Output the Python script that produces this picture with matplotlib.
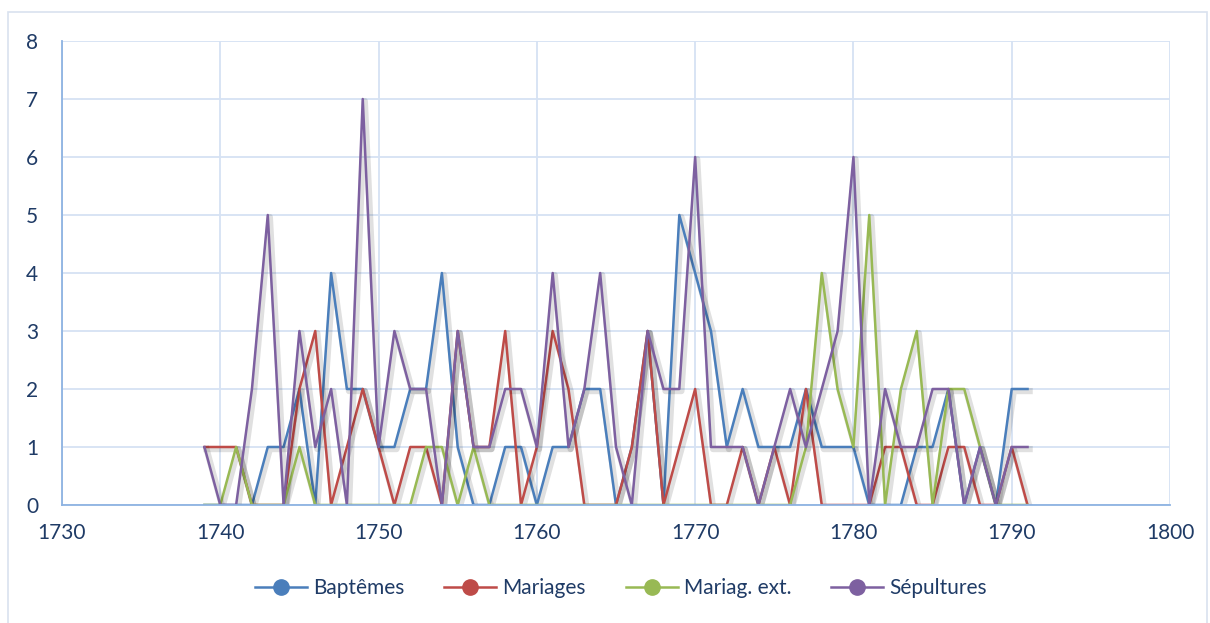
import matplotlib
matplotlib.use("Agg")
import matplotlib.pyplot as plt
import matplotlib.patheffects as pe
from matplotlib.patches import Rectangle

plt.rcParams['font.family'] = ['Lato', 'DejaVu Sans']

# Data (one value per year)
years = list(range(1739, 1792))

baptemes = [0, 0, 0, 0, 1, 1, 2, 0, 4, 2, 2, 1, 1, 2, 2, 4, 1, 0, 0, 1,
            1, 0, 1, 1, 2, 2, 0, 1, 3, 0, 5, 4, 3, 1, 2, 1, 1, 1, 2, 1,
            1, 1, 0, 0, 0, 1, 1, 2, 0, 1, 0, 2, 2]
mariages = [1, 1, 1, 0, 0, 0, 2, 3, 0, 1, 2, 1, 0, 1, 1, 0, 3, 1, 1, 3,
            0, 1, 3, 2, 0, 0, 0, 1, 3, 0, 1, 2, 0, 0, 1, 0, 1, 0, 2, 0,
            0, 0, 0, 1, 1, 0, 0, 1, 1, 0, 0, 1, 0]
mariag_ext = [0, 0, 1, 0, 0, 0, 1, 0, 0, 0, 0, 0, 0, 0, 1, 1, 0, 1, 0, 0,
              0, 0, 0, 0, 0, 0, 0, 0, 0, 0, 0, 0, 0, 0, 0, 0, 0, 0, 1, 4,
              2, 1, 5, 0, 2, 3, 0, 2, 2, 1, 0, 0, 0]
sepultures = [1, 0, 0, 2, 5, 0, 3, 1, 2, 0, 7, 1, 3, 2, 2, 0, 3, 1, 1, 2,
              2, 1, 4, 1, 2, 4, 1, 0, 3, 2, 2, 6, 1, 1, 1, 0, 1, 2, 1, 2,
              3, 6, 0, 2, 1, 1, 2, 2, 0, 1, 0, 1, 1]

series = [
    ("Baptêmes", baptemes, '#4A7EBB'),
    ("Mariages", mariages, '#BE4B48'),
    ("Mariag. ext.", mariag_ext, '#98B954'),
    ("Sépultures", sepultures, '#7D60A0'),
]

text_color = '#1F3B66'
grid_color = '#D6E2F3'
axis_color = '#8DB3E2'

fig = plt.figure(figsize=(12.10, 6.23), dpi=100)
ax = fig.add_axes([62 / 1210, 1 - 505 / 623, (1170 - 62) / 1210, (505 - 41) / 623])

# outer chart border
fig.patches.append(Rectangle((8 / 1210, -0.1), (1207 - 8) / 1210, 1.1 - 12 / 623,
                             transform=fig.transFigure, fill=False,
                             edgecolor='#D9E2EF', linewidth=1.2))

shadow = [pe.SimpleLineShadow(offset=(1.5, -1.5), shadow_color='#000000', alpha=0.12, linewidth=4.5),
          pe.Normal()]

for name, vals, color in series:
    ax.plot(years, vals, color=color, linewidth=1.8, label=name, path_effects=shadow)

ax.set_xlim(1730, 1800)
ax.set_ylim(0, 8)
ax.set_xticks(range(1730, 1801, 10))
ax.set_yticks(range(0, 9))
ax.grid(True, color=grid_color, linewidth=1.3)
ax.set_axisbelow(True)

for side in ['top', 'right']:
    ax.spines[side].set_visible(False)
for side in ['left', 'bottom']:
    ax.spines[side].set_color(axis_color)
    ax.spines[side].set_linewidth(1.3)

ax.tick_params(axis='both', length=0, labelsize=15, labelcolor=text_color)
ax.tick_params(axis='y', pad=17)
ax.tick_params(axis='x', pad=13)

handles = [plt.Line2D([], [], color=c, marker='o', markersize=11, linewidth=1.8)
           for _, _, c in series]
fig.legend(handles, [s[0] for s in series], loc='center', bbox_to_anchor=(621 / 1210, 1 - 588 / 623),
           ncol=4, frameon=False, fontsize=15, labelcolor=text_color,
           handlelength=2.5, handletextpad=0.3, columnspacing=1.9)

fig.savefig("out.png", dpi=100, facecolor='white')
